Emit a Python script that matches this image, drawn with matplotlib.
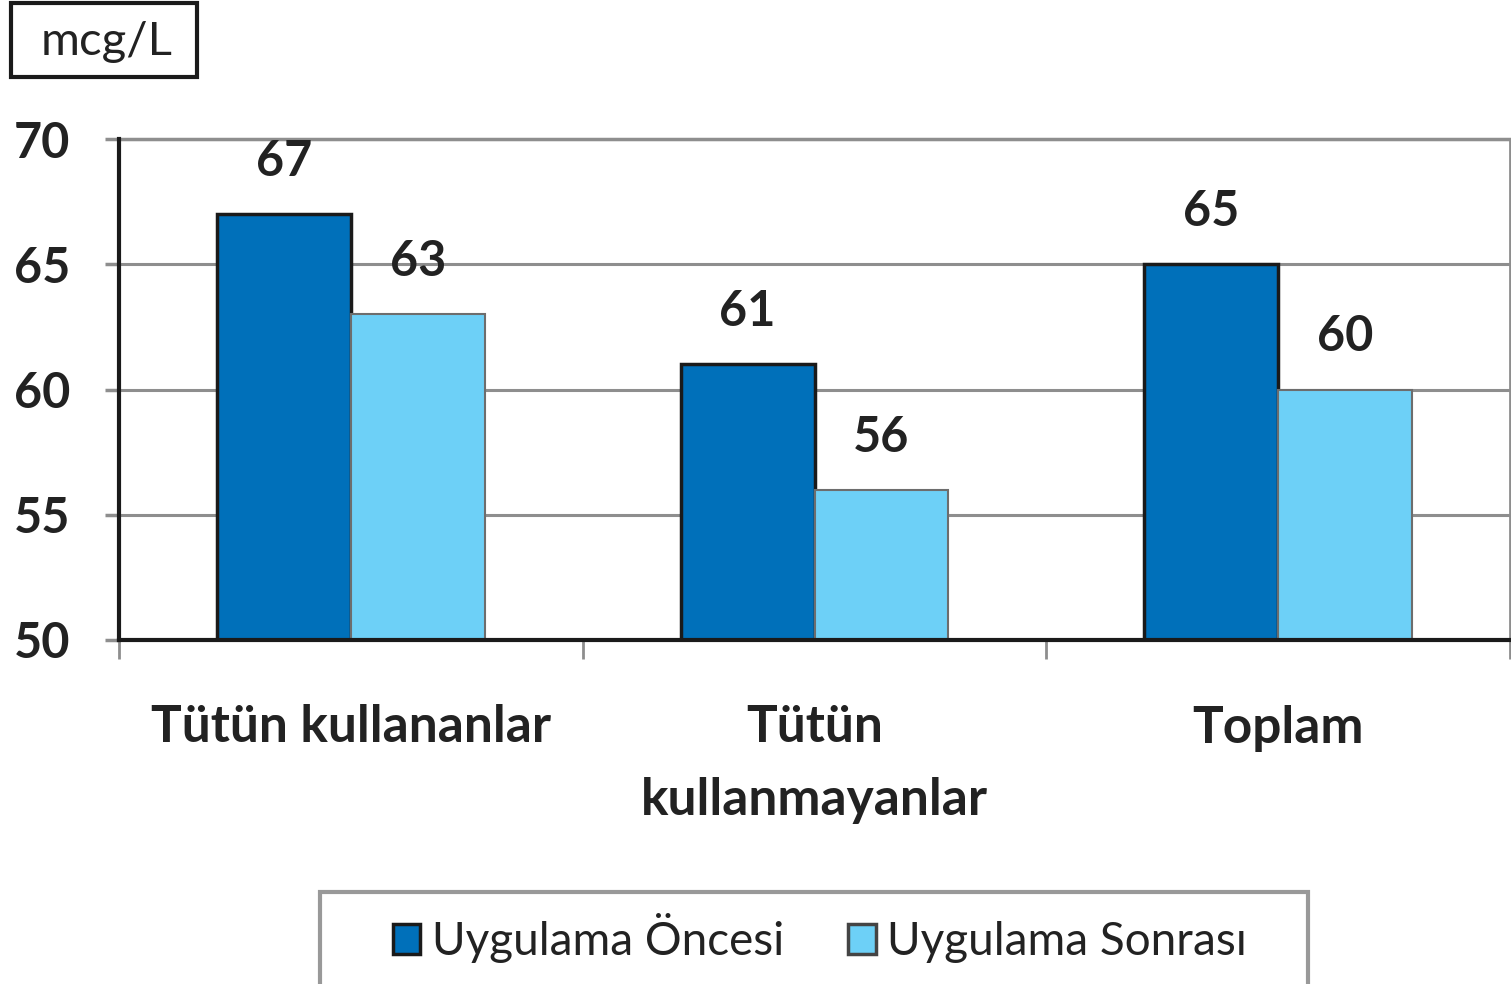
import matplotlib
matplotlib.use("Agg")
import matplotlib.pyplot as plt
import matplotlib.transforms as mtransforms
import numpy as np
from matplotlib.patches import Rectangle, Patch

categories = ["Tütün kullananlar", "Tütün\nkullanmayanlar", "Toplam"]
series_names = ["Uygulama Öncesi", "Uygulama Sonrası"]
oncesi = [67, 61, 65]
sonrasi = [63, 56, 60]
yticks = [50, 55, 60, 65, 70]
unit = "mcg/L"

plt.rcParams['font.family'] = ['Lato', 'DejaVu Sans']

dark = "#0070BA"
light = "#6DD0F7"
grid_c = "#8E8E8E"
txt_c = "#222222"

fig = plt.figure(figsize=(15.11, 9.84), dpi=100)
ax = fig.add_axes([119/1511, 1-640/984, (1510-119)/1511, (640-139)/984])

x = np.arange(len(categories))
w = 0.289
ax.bar(x - w/2, [v - 50 for v in oncesi], w, bottom=50, color=dark,
       edgecolor="#1a1a1a", linewidth=2.5, zorder=3)
ax.bar(x + w/2, [v - 50 for v in sonrasi], w, bottom=50, color=light,
       edgecolor="#6d6d6d", linewidth=1.5, zorder=3)

for xi, v in zip(x, oncesi):
    ax.text(xi - w/2, v + 2.1, str(v), ha="center", va="center",
            fontsize=35, fontweight="bold", color=txt_c)
for xi, v in zip(x, sonrasi):
    ax.text(xi + w/2, v + 2.1, str(v), ha="center", va="center",
            fontsize=35, fontweight="bold", color=txt_c)

ax.set_xlim(-0.5, 2.5)
ax.set_ylim(50, 70)
ax.set_yticks(yticks)
ax.set_yticklabels([str(t) for t in yticks], fontsize=35, fontweight="bold", color=txt_c)
ax.yaxis.grid(True, color=grid_c, linewidth=2.2, zorder=0)
ax.set_axisbelow(True)

ax.set_xticks([-0.5, 0.5, 1.5, 2.5])
ax.set_xticklabels([])
ax.tick_params(axis="x", length=14, width=2, color=grid_c, direction="out")
ax.tick_params(axis="y", length=10, width=2.5, color=grid_c, pad=25)

trans = mtransforms.blended_transform_factory(ax.transData, fig.transFigure)
for xi, c in zip(x, categories):
    for i, line in enumerate(c.split("\n")):
        ax.text(xi, 1 - (728 + 72 * i) / 984, line, ha="center", va="center",
                fontsize=37, fontweight="bold", color=txt_c, transform=trans)

ax.spines["left"].set_color("#1a1a1a")
ax.spines["left"].set_linewidth(3)
ax.spines["bottom"].set_color("#1a1a1a")
ax.spines["bottom"].set_linewidth(3)
ax.spines["top"].set_color(grid_c)
ax.spines["top"].set_linewidth(2.5)
ax.spines["right"].set_color(grid_c)
ax.spines["right"].set_linewidth(2)
ax.spines["bottom"].set_zorder(5)
ax.spines["left"].set_zorder(5)

# unit box
fig.patches.append(Rectangle((11/1511, 1-77/984), 186/1511, 74/984,
                             transform=fig.transFigure, fill=False,
                             edgecolor="#1a1a1a", linewidth=3))
fig.text(107/1511, 1-42/984, unit, ha="center", va="center", fontsize=34, color=txt_c)

# legend box
fig.patches.append(Rectangle((320/1511, -0.05), (1308-320)/1511, 0.05 + (984-892)/984,
                             transform=fig.transFigure, fill=False,
                             edgecolor="#999999", linewidth=3))
handles = [Patch(facecolor=dark, edgecolor="#1a1a1a", linewidth=2.5),
           Patch(facecolor=light, edgecolor="#444444", linewidth=2.5)]
fig.legend(handles, series_names, loc="center", bbox_to_anchor=(820/1511, 1-938/984),
           ncol=2, frameon=False, fontsize=33, handlelength=0.6, handleheight=0.65,
           handletextpad=0.25, columnspacing=1.4, labelcolor=txt_c)

fig.savefig("out.png", dpi=100)
